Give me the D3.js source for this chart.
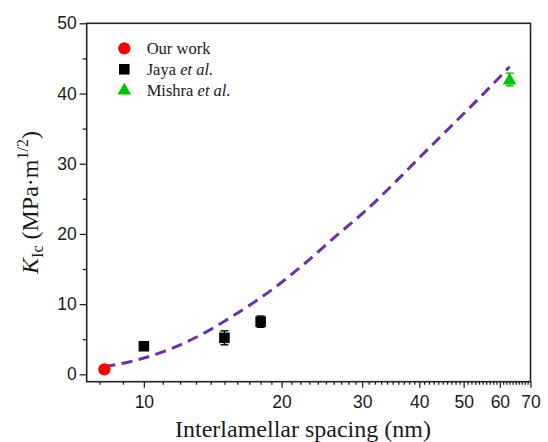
<!DOCTYPE html>
<html>
<head>
<meta charset="utf-8">
<script src="https://cdn.jsdelivr.net/npm/d3@7/dist/d3.min.js"></script>
<style>
  body { margin: 0; background: #fff; }
  svg { display: block; }
</style>
</head>
<body>
<svg id="chart" width="548" height="442"></svg>
<script>
// Fracture toughness vs. interlamellar spacing
const ourX = [8.2];
const ourY = [0.7];

const jayaX = [10, 15, 18];
const jayaY = [4.0, 5.2, 7.5];
const jayaErr = [0.3, 1.0, 0.8];

const mishraX = [63];
const mishraY = [42.0];
const mishraErr = [0.9];

// trend line (dashed)
const fitX = [8.2, 9.33, 11.0, 13.3, 16.0, 19.0, 22.3, 26.2, 30.4, 35.1, 40.5, 46.7, 53.8, 63.0];
const fitY = [1.1, 1.8, 3.2, 5.6, 8.7, 12.0, 15.6, 19.6, 23.2, 27.1, 31.2, 35.2, 39.2, 43.8];

const xMajor = [10, 20, 30, 40, 50, 60, 70];
const xMinor = d3.range(8, 70).filter(v => v % 10 !== 0);
const yMajor = [0, 10, 20, 30, 40, 50];
const yMinor = [5, 15, 25, 35, 45];

const legendNames = ["Our work", "Jaya", "Mishra"];

const svg = d3.select("#chart");
const L = 86.7, R = 530.5, T = 23.3, B = 381.7;

const x = d3.scaleLog().domain([7.5, 70]).range([L, R]);
const y = d3.scaleLinear().domain([-1.05, 50]).range([B, T]);

const axisColor = "#222";
const tickFont = "'Liberation Sans', Arial, sans-serif";
const serif = "'Liberation Serif', 'Times New Roman', serif";

// x axis (bottom)
const gx = svg.append("g").attr("transform", `translate(0,${B})`);
gx.call(d3.axisBottom(x).tickValues(xMajor).tickFormat(d3.format("d")).tickSize(6).tickPadding(8));
gx.append("g").call(d3.axisBottom(x).tickValues(xMinor).tickFormat("").tickSize(3))
  .select(".domain").remove();

// y axis (left)
const gy = svg.append("g").attr("transform", `translate(${L},0)`);
gy.call(d3.axisLeft(y).tickValues(yMajor).tickFormat(d3.format("d")).tickSize(7).tickPadding(3));
gy.append("g").call(d3.axisLeft(y).tickValues(yMinor).tickFormat("").tickSize(4))
  .select(".domain").remove();

svg.selectAll(".domain").remove();
svg.selectAll(".tick line").attr("stroke", axisColor).attr("stroke-width", 1.3);
svg.selectAll(".tick text")
  .attr("fill", "#1a1a1a")
  .style("font-family", tickFont)
  .style("font-size", "17.5px");

// frame
svg.append("rect")
  .attr("x", L).attr("y", T)
  .attr("width", R - L).attr("height", B - T)
  .attr("fill", "none")
  .attr("stroke", axisColor)
  .attr("stroke-width", 1.6);

// dashed trend line
const line = d3.line()
  .x((d, i) => x(fitX[i]))
  .y((d, i) => y(fitY[i]))
  .curve(d3.curveMonotoneX);
svg.append("path")
  .datum(fitX)
  .attr("d", line)
  .attr("fill", "none")
  .attr("stroke", "#7030A0")
  .attr("stroke-width", 3)
  .attr("stroke-dasharray", "11,6.5");

// error bars
function errorBars(xs, ys, es, color) {
  const g = svg.append("g").attr("stroke", color).attr("stroke-width", 1.4);
  xs.forEach((xv, i) => {
    const cx = x(xv), y0 = y(ys[i] - es[i]), y1 = y(ys[i] + es[i]);
    g.append("line").attr("x1", cx).attr("x2", cx).attr("y1", y0).attr("y2", y1);
    g.append("line").attr("x1", cx - 4).attr("x2", cx + 4).attr("y1", y0).attr("y2", y0);
    g.append("line").attr("x1", cx - 4).attr("x2", cx + 4).attr("y1", y1).attr("y2", y1);
  });
}
errorBars(jayaX, jayaY, jayaErr, "#000");
errorBars(mishraX, mishraY, mishraErr, "#00c400");

const circle = d3.symbol().type(d3.symbolCircle).size(118);
const square = d3.symbol().type(d3.symbolSquare).size(112);
const triangle = d3.symbol().type(d3.symbolTriangle).size(80);

svg.append("g").selectAll("path").data(ourX).join("path")
  .attr("d", circle)
  .attr("transform", (d, i) => `translate(${x(d)},${y(ourY[i])})`)
  .attr("fill", "#ff0000");

svg.append("g").selectAll("path").data(jayaX).join("path")
  .attr("d", square)
  .attr("transform", (d, i) => `translate(${x(d)},${y(jayaY[i])})`)
  .attr("fill", "#000");

svg.append("g").selectAll("path").data(mishraX).join("path")
  .attr("d", triangle)
  .attr("transform", (d, i) => `translate(${x(d)},${y(mishraY[i]) + 1})`)
  .attr("fill", "#00c400");

// legend
const legend = svg.append("g");
const lx = 124.3, ly = [48.3, 69.3, 89.5];
legend.append("path").attr("d", circle).attr("fill", "#ff0000")
  .attr("transform", `translate(${lx},${ly[0]})`);
legend.append("path").attr("d", square).attr("fill", "#000")
  .attr("transform", `translate(${lx},${ly[1]})`);
legend.append("path").attr("d", triangle).attr("fill", "#00c400")
  .attr("transform", `translate(${lx},${ly[2] + 1})`);

legendNames.forEach((name, i) => {
  const t = legend.append("text")
    .attr("x", 146.7).attr("y", ly[i] + 6)
    .attr("fill", "#1a1a1a")
    .style("font-family", serif)
    .style("font-size", "16.5px");
  t.append("tspan").text(name);
  if (i > 0) {
    t.append("tspan").text(" ");
    t.append("tspan").style("font-style", "italic").text("et al.");
  }
});

// x axis title
svg.append("text")
  .attr("x", 303).attr("y", 437)
  .attr("text-anchor", "middle")
  .attr("fill", "#1a1a1a")
  .style("font-family", serif)
  .style("font-size", "24px")
  .text("Interlamellar spacing (nm)");

// y axis title
const yt = svg.append("text")
  .attr("transform", "translate(37.5,202.5) rotate(-90)")
  .attr("text-anchor", "middle")
  .attr("fill", "#1a1a1a")
  .style("font-family", serif)
  .style("font-size", "24px");
yt.append("tspan").style("font-style", "italic").text("K");
yt.append("tspan").attr("dy", 5).style("font-size", "16px").text("Ic");
yt.append("tspan").attr("dy", -5).text(" (MPa·m");
yt.append("tspan").attr("dy", -10).style("font-size", "16px").text("1/2");
yt.append("tspan").attr("dy", 10).text(")");
</script>
</body>
</html>
